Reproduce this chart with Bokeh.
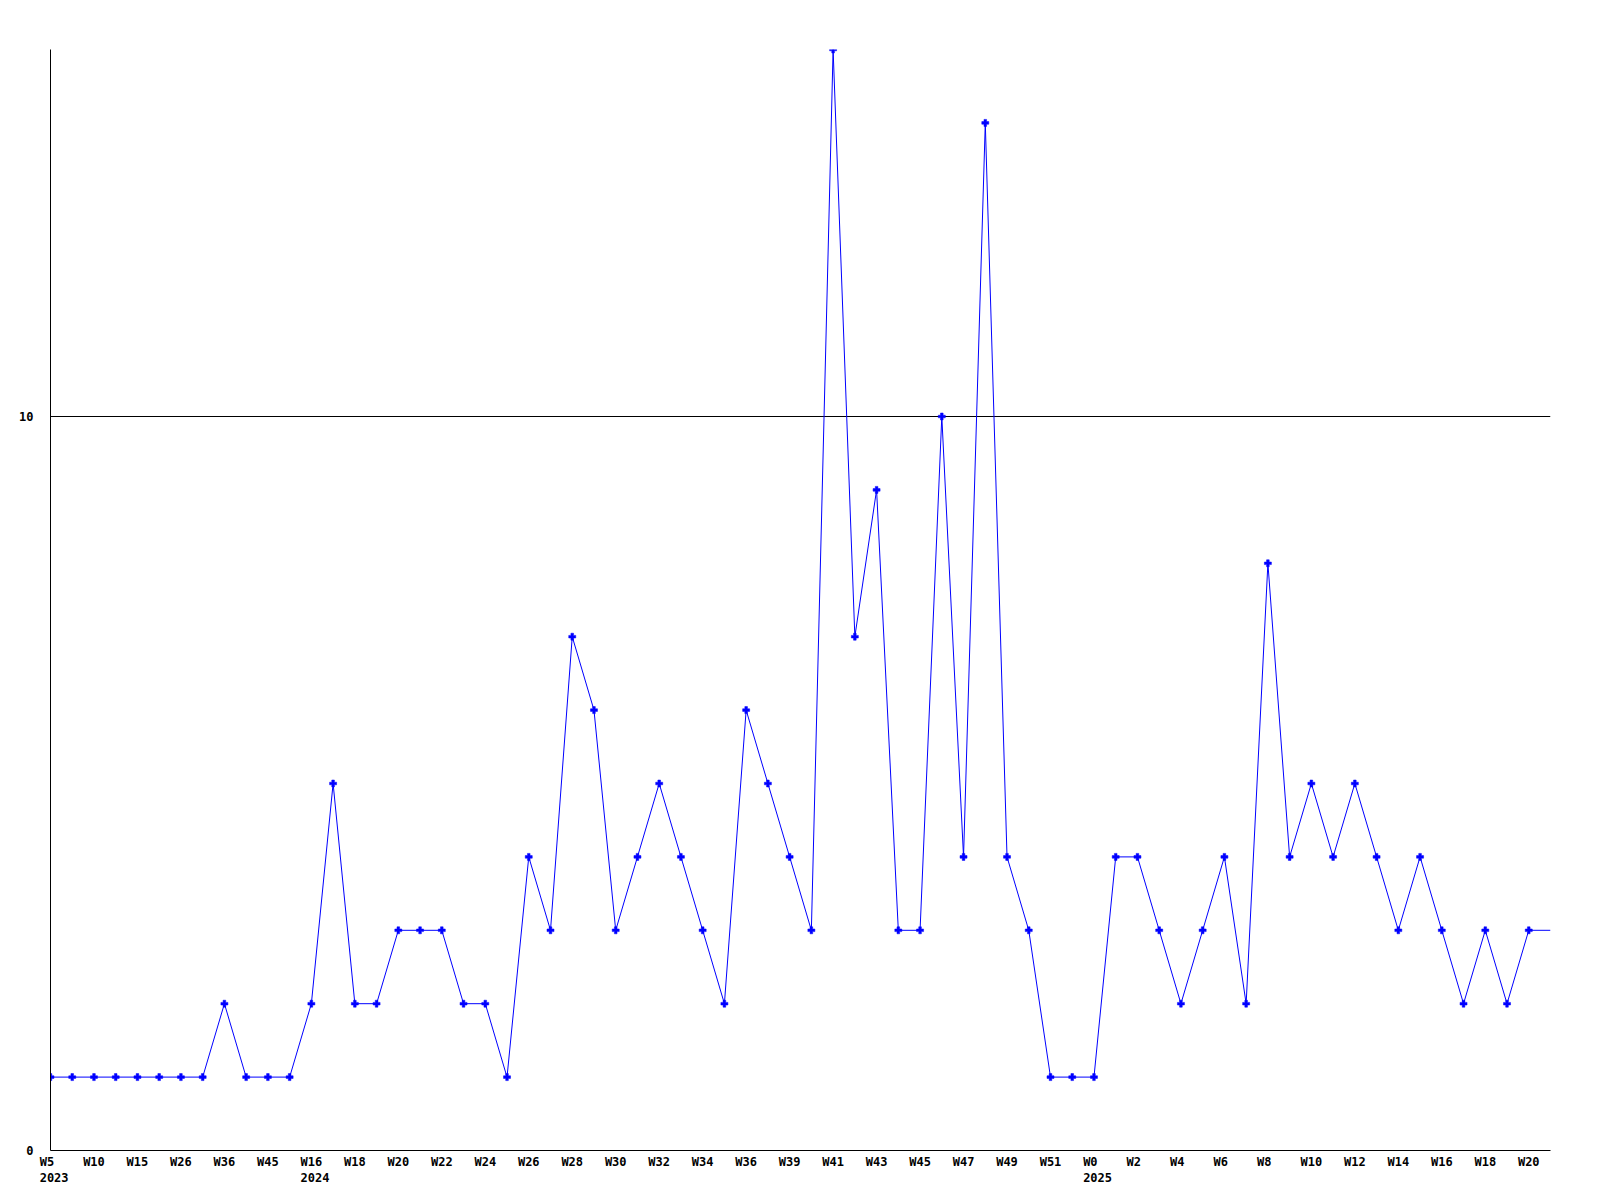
from bokeh.plotting import figure
from bokeh.models import Range1d, FixedTicker
from bokeh.embed import file_html
from bokeh.resources import INLINE

weeks = ["W5", "W7", "W10", "W12", "W15", "W20", "W26", "W30", "W36", "W40", "W45", "W50",
         "W16", "W17", "W18", "W19", "W20", "W21", "W22", "W23", "W24", "W25", "W26", "W27",
         "W28", "W29", "W30", "W31", "W32", "W33", "W34", "W35", "W36", "W37", "W39", "W40",
         "W41", "W42", "W43", "W44", "W45", "W46", "W47", "W48", "W49", "W50", "W51", "W52",
         "W0", "W1", "W2", "W3", "W4", "W5", "W6", "W7", "W8", "W9", "W10", "W11",
         "W12", "W13", "W14", "W15", "W16", "W17", "W18", "W19", "W20", "W21"]
years = {0: "2023", 12: "2024", 48: "2025"}
values = [1, 1, 1, 1, 1, 1, 1, 1, 2, 1, 1, 1,
          2, 5, 2, 2, 3, 3, 3, 2, 2, 1, 4, 3,
          7, 6, 3, 4, 5, 4, 3, 2, 6, 5, 4, 3,
          15, 7, 9, 3, 3, 10, 4, 14, 4, 3, 1, 1,
          1, 4, 4, 3, 2, 3, 4, 2, 8, 4, 5, 4,
          5, 4, 3, 4, 3, 2, 3, 2, 3, 3]
n_marked = 69
y_ticks = [0, 10]

xs = list(range(len(values)))

p = figure(output_backend="svg", toolbar_location=None,
           frame_width=1500, frame_height=1101,
           min_border_left=50, min_border_top=49, min_border_right=20, min_border_bottom=36,
           x_range=Range1d(0, len(values) - 1), y_range=Range1d(0, 15))
p.outline_line_color = None
p.background_fill_color = "white"
p.border_fill_color = "white"

p.line(xs, values, line_color="#0000ff", line_width=1)
p.scatter(xs[:n_marked], values[:n_marked], marker="plus", size=7,
          fill_color="#0000ff", line_color="#0000ff", line_width=0.5)

NB = "\u00a0"


def tick_label(i):
    # monospace padding so every label starts at the same offset left of its tick
    if i in years:
        return NB + weeks[i].ljust(4, NB) + "\n" + NB + years[i]
    return weeks[i].ljust(3, NB)


tick_idx = list(range(0, n_marked, 2))
p.xaxis.ticker = FixedTicker(ticks=tick_idx)
p.xaxis.major_label_overrides = {i: tick_label(i) for i in tick_idx}
p.yaxis.ticker = FixedTicker(ticks=y_ticks)

for ax in (p.xaxis, p.yaxis):
    ax.axis_line_color = "black"
    ax.axis_line_width = 1
    ax.major_tick_line_color = None
    ax.minor_tick_line_color = None
    ax.major_tick_out = 0
    ax.major_tick_in = 0
    ax.major_label_text_font = "DejaVu Sans Mono"
    ax.major_label_text_font_style = "bold"
    ax.major_label_text_font_size = "12px"
    ax.major_label_text_color = "black"

p.xaxis.major_label_standoff = 4
p.yaxis.major_label_standoff = 17

p.xgrid.grid_line_color = None
p.ygrid.ticker = FixedTicker(ticks=[10])
p.ygrid.grid_line_color = "black"
p.ygrid.grid_line_width = 1

open("out.html", "w").write(file_html(p, INLINE))
